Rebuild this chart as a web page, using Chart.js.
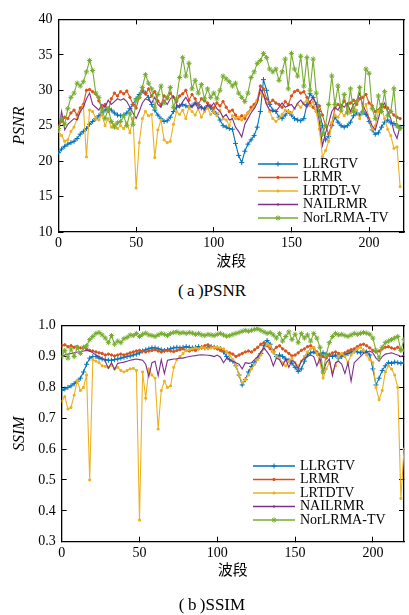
<!DOCTYPE html>
<html>
<head>
<meta charset="utf-8">
<script src="https://cdn.jsdelivr.net/npm/chart.js@4.4.0/dist/chart.umd.js"></script>
<style>
  body { margin: 0; background: #fff; }
  #wrap { position: relative; width: 409px; height: 615px; }
  canvas { position: absolute; left: 0; }
  .caption { position: absolute; left: 0; width: 424px; text-align: center; line-height: 20px;
             font: 17px "Liberation Serif", "Noto Sans CJK SC", serif; color: #000; }
</style>
</head>
<body>
<div id="wrap">
  <canvas id="psnr-chart" width="409" height="280" style="top:0"></canvas>
  <div class="caption" style="top:281px">(&#8201;a&#8201;)PSNR</div>
  <canvas id="ssim-chart" width="409" height="300" style="top:300px"></canvas>
  <div class="caption" style="top:595px">(&#8201;b&#8201;)SSIM</div>
</div>
<script>
// Band-wise PSNR / SSIM comparison

const bands = [0, 2, 4, 6, 8, 10, 12, 14, 16, 18, 20, 22, 24, 26, 28, 30, 32, 34, 36, 38,
    40, 42, 44, 46, 48, 50, 52, 54, 56, 58, 60, 62, 64, 66, 68, 70, 72, 74, 76, 78,
    80, 82, 84, 86, 88, 90, 92, 94, 96, 98, 100, 102, 104, 106, 108, 110, 112, 114, 116, 118,
    120, 122, 124, 126, 128, 130, 132, 134, 136, 138, 140, 142, 144, 146, 148, 150, 152, 154, 156, 158,
    160, 162, 164, 166, 168, 170, 172, 174, 176, 178, 180, 182, 184, 186, 188, 190, 192, 194, 196, 198,
    200, 202, 204, 206, 208, 210, 212, 214, 216, 218, 220];

const xTicks = [0, 50, 100, 150, 200];
const psnrTicks = [10, 15, 20, 25, 30, 35, 40];
const ssimTicks = [0.3, 0.4, 0.5, 0.6, 0.7, 0.8, 0.9, 1.0];

const psnrLabels = ['LLRGTV', 'LRMR', 'LRTDT-V', 'NAILRMR', 'NorLRMA-TV'];
const ssimLabels = ['LLRGTV', 'LRMR', 'LRTDTV', 'NAILRMR', 'NorLRMA-TV'];

// PSNR (dB)
const psnrLLRGTV = [
    21.2, 21.7, 22.1, 22.4, 22.6, 22.8, 23.2, 23.8, 24.2, 24.6,
    25.2, 25.6, 26.0, 26.4, 26.8, 27.2, 27.4, 27.2, 26.8, 26.5,
    26.4, 26.5, 26.8, 27.4, 28.0, 28.8, 29.4, 29.9, 29.6, 29.0,
    28.0, 27.2, 26.5, 26.0, 25.6, 25.7, 26.2, 27.0, 27.6, 27.8,
    28.0, 27.8, 27.6, 27.8, 28.2, 28.0, 27.5, 27.4, 27.8, 27.5,
    27.0, 26.6, 25.8, 25.0, 24.8, 24.6, 24.5, 22.5, 20.8, 19.8,
    21.4, 22.4, 23.0, 23.6, 24.8, 27.0, 31.5, 30.0, 28.0, 27.2,
    27.0, 26.2, 26.0, 26.5, 27.0, 26.5, 26.0, 25.8, 25.7, 26.0,
    28.0, 29.5, 29.0, 28.0, 27.0, 25.0, 23.0, 23.5, 25.0, 26.2,
    25.5, 25.0, 24.8, 25.0, 25.5, 26.4, 26.8, 26.5, 26.9, 26.6,
    25.6, 24.4, 23.8, 24.0, 24.8, 25.5, 25.8, 25.4, 25.3, 25.0,
    24.8];
const psnrLRMR = [
    25.0, 25.6, 26.2, 26.0, 26.8, 27.2, 26.5, 27.5, 28.0, 30.0,
    30.1, 29.8, 29.5, 28.5, 27.5, 28.0, 27.0, 28.8, 29.6, 29.2,
    29.8, 29.5, 29.9, 29.0, 28.0, 27.5, 29.0, 30.0, 29.5, 30.2,
    29.2, 29.8, 28.5, 28.0, 29.2, 28.8, 29.6, 29.0, 28.4, 29.2,
    29.5, 30.0, 28.6, 29.4, 28.8, 28.0, 28.8, 28.5, 28.2, 27.8,
    27.5, 28.2, 27.8, 28.4, 27.6, 27.0, 27.2, 26.5, 26.0, 26.4,
    26.0, 26.8, 27.6, 28.0, 28.6, 30.6, 30.2, 28.8, 28.2, 28.6,
    28.2, 28.0, 27.6, 28.4, 28.0, 29.2, 29.8, 30.0, 29.6, 29.8,
    29.0, 28.2, 27.6, 27.0, 27.8, 26.5, 25.0, 23.8, 25.2, 27.5,
    28.0, 27.6, 28.5, 27.8, 28.2, 28.6, 28.0, 28.8, 29.0, 29.4,
    28.2, 27.8, 27.0, 27.2, 28.0, 27.6, 27.5, 27.0, 26.5, 26.2,
    26.0];
const psnrLRTDTV = [
    24.2, 23.6, 22.8, 23.0, 24.2, 24.8, 26.0, 27.0, 27.8, 20.6,
    27.2, 27.0, 26.0, 25.8, 26.6, 25.0, 26.0, 24.8, 25.2, 24.6,
    25.0, 24.6, 25.4, 24.0, 26.0, 16.2, 22.6, 26.0, 27.0, 26.4,
    26.6, 20.5, 24.4, 25.8, 23.0, 22.6, 22.8, 25.2, 27.0, 26.6,
    27.2, 26.0, 27.6, 27.0, 26.5, 27.4, 26.2, 27.0, 27.5, 26.6,
    27.0, 26.4, 27.2, 26.0, 25.8, 25.0, 26.4, 26.0, 26.2, 25.8,
    26.4, 26.8, 27.2, 27.6, 28.6, 29.6, 29.2, 28.2, 27.0, 26.0,
    25.6, 26.0, 26.6, 27.2, 27.0, 26.8, 27.4, 28.0, 27.6, 28.2,
    28.6, 27.8, 28.4, 27.0, 24.5, 20.6, 21.5, 22.8, 25.5, 26.5,
    26.2, 27.0, 26.4, 27.2, 26.8, 27.6, 27.2, 26.0, 27.0, 28.0,
    26.0, 24.5, 25.0, 27.0, 27.6, 26.0, 24.5, 23.6, 21.8, 22.0,
    16.4];
const psnrNAILRMR = [
    24.2, 27.0, 24.4, 25.2, 25.6, 26.0, 25.8, 27.0, 27.6, 28.8,
    29.6, 28.0, 27.6, 27.2, 28.0, 27.6, 28.6, 28.0, 28.4, 28.8,
    28.6, 28.8, 28.4, 27.6, 26.8, 26.0, 27.0, 28.2, 28.8, 28.6,
    28.2, 29.0, 28.0, 27.6, 28.6, 28.0, 28.8, 29.2, 28.0, 27.6,
    28.4, 29.0, 28.2, 27.6, 28.2, 27.4, 27.8, 27.2, 28.0, 27.6,
    28.2, 27.4, 27.0, 26.2, 26.6, 25.8, 26.0, 24.8, 24.2, 23.4,
    25.2, 26.0, 26.8, 27.4, 28.2, 30.2, 29.4, 28.0, 27.2, 27.0,
    27.0, 27.6, 28.2, 27.6, 27.8, 28.0, 27.4, 28.2, 28.6, 28.0,
    27.6, 28.4, 29.0, 28.0, 25.6, 22.2, 24.0, 25.4, 27.0, 27.6,
    27.2, 28.0, 27.6, 28.2, 27.0, 28.0, 28.4, 29.6, 27.8, 27.0,
    26.0, 25.0, 24.4, 26.0, 27.6, 28.2, 27.0, 26.0, 24.2, 23.2,
    25.0];
const psnrNorLRMA = [
    24.6, 26.0, 25.2, 27.4, 29.0, 29.6, 31.0, 30.6, 31.2, 32.6,
    34.2, 32.8, 29.6, 29.0, 27.2, 26.0, 27.4, 25.6, 24.8, 25.4,
    25.6, 26.4, 25.0, 26.8, 25.2, 28.6, 29.0, 30.4, 32.2, 31.0,
    30.2, 27.6, 29.4, 30.6, 28.2, 29.0, 30.4, 27.6, 28.8, 31.8,
    34.6, 32.0, 33.8, 30.2, 31.4, 29.6, 30.8, 28.8, 30.2, 29.0,
    29.6, 28.8, 30.0, 32.0, 31.6, 31.2, 30.6, 31.0, 29.6, 29.0,
    28.4, 29.6, 31.8, 32.6, 33.8, 34.2, 35.2, 34.6, 33.0, 32.6,
    33.0, 31.4, 32.6, 34.4, 30.2, 35.2, 33.0, 32.0, 34.8, 30.6,
    34.6, 30.0, 34.4, 29.6, 26.5, 23.8, 25.0, 28.0, 32.0, 28.0,
    30.6, 27.2, 29.4, 26.8, 30.2, 27.0, 28.4, 30.4, 27.0, 33.0,
    32.4, 27.4, 26.0, 29.2, 27.0, 29.8, 26.4, 27.0, 30.2, 25.0,
    24.6];

// SSIM
const ssimLLRGTV = [
    0.790, 0.795, 0.800, 0.805, 0.812, 0.820, 0.830, 0.850, 0.875, 0.895,
    0.900, 0.900, 0.895, 0.892, 0.890, 0.888, 0.888, 0.890, 0.892, 0.895,
    0.898, 0.900, 0.902, 0.905, 0.908, 0.912, 0.918, 0.922, 0.925, 0.928,
    0.928, 0.925, 0.922, 0.920, 0.922, 0.925, 0.928, 0.930, 0.928, 0.930,
    0.932, 0.930, 0.928, 0.930, 0.932, 0.930, 0.928, 0.930, 0.932, 0.930,
    0.928, 0.926, 0.915, 0.900, 0.890, 0.885, 0.870, 0.840, 0.808, 0.825,
    0.850, 0.868, 0.880, 0.895, 0.910, 0.935, 0.952, 0.940, 0.915, 0.900,
    0.905, 0.900, 0.892, 0.888, 0.878, 0.865, 0.852, 0.860, 0.885, 0.905,
    0.912, 0.915, 0.910, 0.905, 0.912, 0.908, 0.905, 0.900, 0.905, 0.895,
    0.900, 0.905, 0.910, 0.915, 0.918, 0.915, 0.912, 0.918, 0.915, 0.905,
    0.860, 0.808, 0.830, 0.855, 0.870, 0.880, 0.878, 0.882, 0.880, 0.878,
    0.880];
const ssimLRMR = [
    0.935, 0.938, 0.932, 0.935, 0.930, 0.932, 0.928, 0.930, 0.925, 0.920,
    0.918, 0.915, 0.912, 0.910, 0.905, 0.908, 0.905, 0.902, 0.905, 0.908,
    0.905, 0.908, 0.912, 0.915, 0.918, 0.920, 0.918, 0.915, 0.918, 0.920,
    0.922, 0.918, 0.915, 0.918, 0.920, 0.918, 0.916, 0.920, 0.922, 0.925,
    0.920, 0.918, 0.922, 0.920, 0.925, 0.930, 0.935, 0.938, 0.932, 0.930,
    0.925, 0.920, 0.918, 0.915, 0.912, 0.908, 0.900, 0.905, 0.910, 0.915,
    0.918, 0.915, 0.922, 0.930, 0.940, 0.945, 0.935, 0.925, 0.920, 0.930,
    0.935, 0.925, 0.918, 0.910, 0.902, 0.905, 0.912, 0.920, 0.925, 0.932,
    0.935, 0.928, 0.915, 0.905, 0.900, 0.895, 0.905, 0.912, 0.915, 0.910,
    0.905, 0.912, 0.918, 0.922, 0.925, 0.932, 0.938, 0.940, 0.935, 0.928,
    0.920, 0.915, 0.918, 0.925, 0.930, 0.932, 0.928, 0.925, 0.930, 0.922,
    0.920];
const ssimLRTDTV = [
    0.755, 0.770, 0.730, 0.735, 0.775, 0.822, 0.790, 0.800, 0.840, 0.500,
    0.890, 0.885, 0.880, 0.870, 0.868, 0.865, 0.872, 0.860, 0.865, 0.855,
    0.850, 0.855, 0.860, 0.862, 0.855, 0.370, 0.850, 0.765, 0.860, 0.840,
    0.830, 0.665, 0.790, 0.820, 0.800, 0.805, 0.865, 0.890, 0.900, 0.910,
    0.920, 0.922, 0.925, 0.928, 0.925, 0.930, 0.928, 0.925, 0.928, 0.930,
    0.930, 0.928, 0.925, 0.915, 0.905, 0.890, 0.870, 0.840, 0.815, 0.825,
    0.840, 0.860, 0.875, 0.890, 0.905, 0.925, 0.940, 0.935, 0.915, 0.900,
    0.895, 0.880, 0.870, 0.885, 0.895, 0.880, 0.870, 0.885, 0.900, 0.915,
    0.925, 0.930, 0.910, 0.880, 0.830, 0.860, 0.880, 0.850, 0.870, 0.900,
    0.910, 0.900, 0.880, 0.905, 0.915, 0.925, 0.930, 0.920, 0.905, 0.890,
    0.880, 0.800, 0.760, 0.790, 0.850, 0.870, 0.860, 0.840, 0.800, 0.440,
    0.600];
const ssimNAILRMR = [
    0.900, 0.905, 0.908, 0.910, 0.912, 0.915, 0.915, 0.918, 0.920, 0.918,
    0.912, 0.905, 0.900, 0.895, 0.885, 0.862, 0.880, 0.858, 0.878, 0.880,
    0.882, 0.885, 0.888, 0.890, 0.892, 0.890, 0.888, 0.875, 0.835, 0.880,
    0.885, 0.838, 0.890, 0.845, 0.888, 0.890, 0.892, 0.893, 0.895, 0.895,
    0.898, 0.900, 0.902, 0.903, 0.905, 0.906, 0.905, 0.904, 0.903, 0.900,
    0.905, 0.898, 0.880, 0.895, 0.890, 0.885, 0.880, 0.875, 0.860, 0.880,
    0.878, 0.880, 0.890, 0.900, 0.915, 0.928, 0.915, 0.900, 0.870, 0.895,
    0.890, 0.870, 0.892, 0.865, 0.888, 0.880, 0.860, 0.885, 0.895, 0.900,
    0.905, 0.900, 0.870, 0.895, 0.850, 0.880, 0.892, 0.838, 0.880, 0.885,
    0.875, 0.845, 0.880, 0.820, 0.880, 0.890, 0.900, 0.910, 0.915, 0.918,
    0.912, 0.895, 0.885, 0.900, 0.908, 0.910, 0.912, 0.908, 0.905, 0.900,
    0.905];
const ssimNorLRMA = [
    0.900, 0.920, 0.895, 0.925, 0.900, 0.930, 0.910, 0.930, 0.935, 0.955,
    0.965, 0.975, 0.978, 0.970, 0.960, 0.945, 0.968, 0.940, 0.950, 0.945,
    0.958, 0.962, 0.970, 0.968, 0.975, 0.965, 0.972, 0.976, 0.970, 0.968,
    0.965, 0.970, 0.975, 0.972, 0.968, 0.975, 0.978, 0.980, 0.976, 0.978,
    0.975, 0.978, 0.976, 0.972, 0.975, 0.970, 0.968, 0.972, 0.970, 0.968,
    0.972, 0.975, 0.970, 0.966, 0.968, 0.972, 0.975, 0.978, 0.982, 0.985,
    0.982, 0.985, 0.988, 0.990, 0.985, 0.980, 0.975, 0.978, 0.970, 0.960,
    0.975, 0.950, 0.965, 0.980, 0.955, 0.972, 0.945, 0.975, 0.960, 0.970,
    0.950, 0.975, 0.960, 0.930, 0.850, 0.905, 0.945, 0.965, 0.975, 0.970,
    0.972, 0.968, 0.965, 0.970, 0.975, 0.972, 0.975, 0.978, 0.976, 0.972,
    0.960, 0.920, 0.895, 0.930, 0.945, 0.950, 0.955, 0.960, 0.965, 0.920,
    0.955];

const FONT = '"Liberation Serif", "Noto Sans CJK SC", serif';
const COLORS = ['#0072BD', '#D95319', '#EDB120', '#7E2F8E', '#77AC30'];
const MARKERS = [
    { style: 'cross', r: 2.5 },
    { style: 'circle', r: 1.2 },
    { style: 'rect', r: 1.3 },
    { style: 'circle', r: 0 },
    { style: 'star', r: 2.6 }
];

// Legend drawn inside the plot area, lower right
const insetLegend = {
    id: 'insetLegend',
    afterDatasetsDraw(chart, args, opts) {
        const ctx = chart.ctx;
        ctx.save();
        ctx.font = '14px ' + FONT;
        ctx.textBaseline = 'middle';
        chart.data.datasets.forEach((ds, i) => {
            const y = opts.top + i * opts.gap;
            ctx.strokeStyle = ds.borderColor;
            ctx.fillStyle = ds.borderColor;
            ctx.lineWidth = 1.3;
            ctx.beginPath();
            ctx.moveTo(opts.left, y);
            ctx.lineTo(opts.left + opts.len, y);
            ctx.stroke();
            ctx.lineWidth = 1;
            Chart.helpers.drawPoint(ctx, {
                pointStyle: ds.pointStyle,
                radius: Math.max(ds.pointRadius, 0.8),
                borderWidth: 1,
                rotation: 0
            }, opts.left + opts.len / 2, y);
            ctx.fillStyle = '#000';
            ctx.fillText(ds.label, opts.left + opts.len + 5, y);
        });
        ctx.restore();
    }
};

function makeDatasets(series, labels) {
    return series.map((vals, i) => ({
        label: labels[i],
        data: vals.map((v, k) => ({ x: bands[k], y: v })),
        borderColor: COLORS[i],
        backgroundColor: COLORS[i],
        pointBackgroundColor: COLORS[i],
        pointBorderColor: COLORS[i],
        borderWidth: 1.1,
        pointStyle: MARKERS[i].style,
        pointRadius: MARKERS[i].r,
        pointBorderWidth: 1,
        tension: 0,
        order: 4 - i
    }));
}

function frameGrid() {
    return {
        drawOnChartArea: false,
        color: '#000',
        tickColor: '#000',
        tickLength: -5,
        lineWidth: 1
    };
}

function drawChart(canvasId, cfg) {
    const canvas = document.getElementById(canvasId);
    const h = canvas.height;
    const setTicks = list => scale => { scale.ticks = list.map(v => ({ value: v })); };

    return new Chart(canvas.getContext('2d'), {
        type: 'line',
        data: { datasets: makeDatasets(cfg.series, cfg.labels) },
        plugins: [insetLegend],
        options: {
            responsive: false,
            animation: false,
            devicePixelRatio: 1,
            events: [],
            layout: { padding: 0 },
            plugins: {
                legend: { display: false },
                tooltip: { enabled: false },
                insetLegend: cfg.legend
            },
            scales: {
                x: {
                    type: 'linear',
                    position: 'bottom',
                    min: 0,
                    max: cfg.xMax,
                    afterBuildTicks: setTicks(xTicks),
                    afterFit: s => { s.height = h - cfg.area.bottom; },
                    grid: frameGrid(),
                    border: { color: '#000', width: 1.3 },
                    ticks: { font: { family: FONT, size: 14 }, color: '#000', padding: 8, maxRotation: 0 },
                    title: {
                        display: true,
                        text: '波段',
                        color: '#000',
                        font: { family: FONT, size: 15 },
                        padding: { top: 0, bottom: cfg.xTitlePad }
                    }
                },
                x2: {
                    type: 'linear',
                    position: 'top',
                    min: 0,
                    max: cfg.xMax,
                    afterBuildTicks: setTicks(xTicks),
                    afterFit: s => { s.height = cfg.area.top; },
                    grid: frameGrid(),
                    border: { color: '#000', width: 1.3 },
                    ticks: { display: false }
                },
                y: {
                    type: 'linear',
                    position: 'left',
                    min: cfg.yMin,
                    max: cfg.yMax,
                    afterBuildTicks: setTicks(cfg.yTicks),
                    afterFit: s => { s.width = cfg.area.left; },
                    grid: frameGrid(),
                    border: { color: '#000', width: 1.3 },
                    ticks: {
                        font: { family: FONT, size: 14 },
                        color: '#000',
                        padding: 11,
                        callback: cfg.yFormat
                    },
                    title: {
                        display: true,
                        text: cfg.yTitle,
                        color: '#000',
                        font: { family: FONT, size: 16, style: 'italic' },
                        padding: { top: 10, bottom: 0 }
                    }
                },
                y2: {
                    type: 'linear',
                    position: 'right',
                    min: cfg.yMin,
                    max: cfg.yMax,
                    afterBuildTicks: setTicks(cfg.yTicks),
                    afterFit: s => { s.width = canvas.width - cfg.area.right; },
                    grid: frameGrid(),
                    border: { color: '#000', width: 1.3 },
                    ticks: { display: false }
                }
            }
        }
    });
}

drawChart('psnr-chart', {
    series: [psnrLLRGTV, psnrLRMR, psnrLRTDTV, psnrNAILRMR, psnrNorLRMA],
    labels: psnrLabels,
    xMax: 222.5,
    yMin: 10,
    yMax: 40,
    yTicks: psnrTicks,
    yFormat: v => String(v),
    yTitle: 'PSNR',
    xTitlePad: 9,
    area: { left: 58.5, right: 405, top: 15.5, bottom: 232 },
    legend: { left: 258, top: 164, gap: 13.5, len: 40 }
});

drawChart('ssim-chart', {
    series: [ssimLLRGTV, ssimLRMR, ssimLRTDTV, ssimNAILRMR, ssimNorLRMA],
    labels: ssimLabels,
    xMax: 220,
    yMin: 0.3,
    yMax: 1.0,
    yTicks: ssimTicks,
    yFormat: v => v.toFixed(1),
    yTitle: 'SSIM',
    xTitlePad: 20,
    area: { left: 61.7, right: 405, top: 25.7, bottom: 241.7 },
    legend: { left: 253, top: 166, gap: 13.5, len: 42 }
});
</script>
</body>
</html>
